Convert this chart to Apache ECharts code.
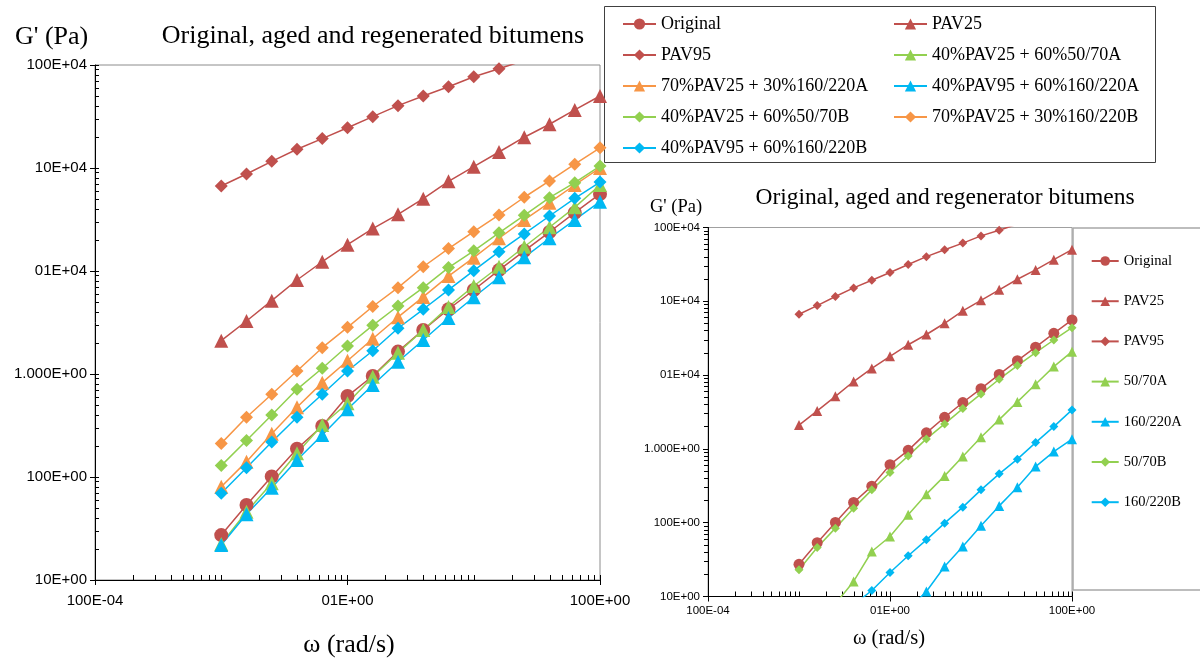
<!DOCTYPE html>
<html><head><meta charset="utf-8">
<script src="https://cdn.jsdelivr.net/npm/echarts@6/dist/echarts.min.js"></script>
<style>html,body{margin:0;padding:0;background:#fff}#c{width:1200px;height:662px}</style>
</head><body><div id="c"></div>
<script>
// angular frequency (rad/s), 5 points per decade
const omega = [0.1,0.1585,0.2512,0.3981,0.631,1,1.585,2.512,3.981,6.31,10,15.85,25.12,39.81,63.1,100];
const xTickLabels = ['100E-04','01E+00','100E+00'];            // at 0.01, 1, 100
const yTickLabels = ['10E+00','100E+00','1.000E+00','01E+04','10E+04','100E+04']; // 10 ... 1e6

// G' (Pa)
const original = [27.3,53.5,101,188,313,611,956,1650,2680,4250,6540,10200,15700,23900,36800,56000];
const pav25 = [2105,3270,5150,8180,12300,18000,25800,35500,50400,74300,103000,143000,199000,266000,366000,500000];
const pav95 = [66800,87500,116000,152000,193000,246000,315000,403000,500000,615000,770000,920000,1110000];
// left chart blends
const mixPav25_5070A = [22.4,46.0,86.9,170,320,520,942,1610,2675,4480,7150,11000,17200,26600,41500,68400];
const mixPav25_160220A = [80.5,141,263,475,824,1346,2200,3560,5600,8930,13460,20800,31300,46000,68400,100000];
const mixPav95_160220A = [21.9,43.4,78.7,146,256,454,782,1316,2140,3500,5560,8690,13580,20800,31300,47100];
const mixPav25_5070B = [129,226,400,710,1136,1870,2970,4570,6890,10800,15700,23500,34700,51500,72000,104500];
const mixPav25_160220B = [212,380,635,1070,1800,2840,4520,6890,11000,16500,24100,35000,52000,74800,109000,157000];
const mixPav95_160220B = [69.5,123,219,380,635,1070,1683,2780,4250,6550,10070,15400,22900,34200,50800,73100];
// right chart regenerators
const reg5070A = [null,null,7.96,16.0,40.7,65.0,127.8,243.8,431,787,1441,2495,4335,7530,13030,20800];
const reg160220A = [null,null,null,null,null,null,6.7,11.7,25.5,47.5,90.7,169,303,576,920,1355];
const reg5070B = [23.0,46.1,84.4,157.5,278.6,478,804,1367,2183,3516,5561,8795,13440,20140,29900,43950];
const reg160220B = [null,null,null,7.7,12.06,21.1,35.6,58.6,98.6,162.5,278.6,459,726,1218,2006,3376];

const RED='#C0504D', GREEN='#92D050', ORANGE='#F79646', CYAN='#00B8F2';
const SERIF='Liberation Serif', SANS='Liberation Sans';

function pairs(vals){ const out=[]; vals.forEach((v,i)=>{ if(v!=null) out.push([omega[i], v]); }); return out; }
function minor(lo, hi){ const out=[]; for(let e=lo;e<hi;e++){ for(let k=1;k<10;k++) out.push(e+Math.log10(k)); } out.push(hi); return out; }

function mk(name, vals, color, symbol, size, g){
  return {name, type:'line', data:pairs(vals), xAxisIndex:g*3, yAxisIndex:g*3,
    symbol, symbolSize:size, showSymbol:true, clip:true,
    lineStyle:{color, width:1.5}, itemStyle:{color}, emphasis:{disabled:true}};
}

const leftNames = ['Original','PAV25','PAV95','40%PAV25 + 60%50/70A','70%PAV25 + 30%160/220A',
  '40%PAV95 + 60%160/220A','40%PAV25 + 60%50/70B','70%PAV25 + 30%160/220B','40%PAV95 + 60%160/220B'];

const series = [
  mk('Original', original, RED, 'circle', 14, 0),
  mk('PAV25', pav25, RED, 'triangle', 14, 0),
  mk('PAV95', pav95, RED, 'diamond', 13, 0),
  mk(leftNames[3], mixPav25_5070A, GREEN, 'triangle', 14, 0),
  mk(leftNames[4], mixPav25_160220A, ORANGE, 'triangle', 14, 0),
  mk(leftNames[5], mixPav95_160220A, CYAN, 'triangle', 14, 0),
  mk(leftNames[6], mixPav25_5070B, GREEN, 'diamond', 13, 0),
  mk(leftNames[7], mixPav25_160220B, ORANGE, 'diamond', 13, 0),
  mk(leftNames[8], mixPav95_160220B, CYAN, 'diamond', 13, 0),
  mk('Original', original, RED, 'circle', 11, 1),
  mk('PAV25', pav25, RED, 'triangle', 10, 1),
  mk('PAV95', pav95, RED, 'diamond', 9, 1),
  mk('50/70A', reg5070A, GREEN, 'triangle', 10, 1),
  mk('160/220A', reg160220A, CYAN, 'triangle', 10, 1),
  mk('50/70B', reg5070B, GREEN, 'diamond', 9, 1),
  mk('160/220B', reg160220B, CYAN, 'diamond', 9, 1)
];

function axesX(g, fs, margin){
  return [
    {gridIndex:g, type:'log', logBase:10, min:0.01, max:100, show:false},
    {gridIndex:g, type:'value', min:-2, max:2, interval:2, position:'bottom',
      axisLine:{show:true, onZero:false, lineStyle:{color:'#000', width:1}},
      axisTick:{show:true, length:5, lineStyle:{color:'#000'}},
      axisLabel:{formatter:v=>xTickLabels[Math.round((v+2)/2)], fontSize:fs, fontFamily:SANS, color:'#000', margin},
      splitLine:{show:false}},
    {gridIndex:g, type:'value', min:-2, max:2, position:'bottom',
      axisLine:{show:false, onZero:false}, axisLabel:{show:false}, splitLine:{show:false},
      axisTick:{show:true, inside:true, length:5, customValues:minor(-2,2), lineStyle:{color:'#000'}}}
  ];
}
function axesY(g, fs, margin, minorInside){
  return [
    {gridIndex:g, type:'log', logBase:10, min:10, max:1000000, show:false},
    {gridIndex:g, type:'value', min:1, max:6, interval:1, position:'left',
      axisLine:{show:true, onZero:false, lineStyle:{color:'#000', width:1}},
      axisTick:{show:true, length:5, lineStyle:{color:'#000'}},
      axisLabel:{formatter:v=>yTickLabels[Math.round(v-1)], fontSize:fs, fontFamily:SANS, color:'#000', margin},
      splitLine:{show:false}},
    {gridIndex:g, type:'value', min:1, max:6, position:'left',
      axisLine:{show:false, onZero:false}, axisLabel:{show:false}, splitLine:{show:false},
      axisTick:{show:true, inside:minorInside, length:4, customValues:minor(1,6), lineStyle:{color:'#000'}}}
  ];
}

const legendText = {fontFamily:SERIF, fontSize:18, color:'#000'};

const option = {
  backgroundColor:'#fff',
  animation:false,
  grid:[
    {left:95, top:65, width:505, height:515, show:true, borderColor:'#8c8c8c', borderWidth:1},
    {left:708, top:227.5, width:364, height:369, show:true, borderColor:'#a0a0a0', borderWidth:1}
  ],
  xAxis:[...axesX(0, 15, 13), ...axesX(1, 11.5, 8)],
  yAxis:[...axesY(0, 15, 8, true), ...axesY(1, 11.5, 8, false)],
  legend:[
    {data:[leftNames[0],leftNames[2],leftNames[4],leftNames[6],leftNames[8]], orient:'vertical',
      left:617, top:10, itemWidth:33, itemHeight:14, itemGap:13, textStyle:legendText, selectedMode:false},
    {data:[leftNames[1],leftNames[3],leftNames[5],leftNames[7]], orient:'vertical',
      left:888, top:10, itemWidth:33, itemHeight:14, itemGap:13, textStyle:legendText, selectedMode:false},
    {data:['Original','PAV25','PAV95','50/70A','160/220A','50/70B','160/220B'], orient:'vertical',
      left:1085.7, top:248.5, itemWidth:27, itemHeight:12, itemGap:25.2,
      textStyle:{fontFamily:SERIF, fontSize:14.5, color:'#000'}, selectedMode:false}
  ],
  graphic:[
    {type:'rect', shape:{x:604.5, y:6.5, width:551, height:156}, style:{fill:null, stroke:'#404040', lineWidth:1}, silent:true, z:-1},
    {type:'rect', shape:{x:1073, y:228, width:140, height:362}, style:{fill:null, stroke:'#a8a8a8', lineWidth:1.5}, silent:true, z:-1},
    {type:'text', x:373, y:36, style:{text:'Original, aged and regenerated bitumens', font:'26px "Liberation Serif"', fill:'#000', textAlign:'center', textVerticalAlign:'middle'}},
    {type:'text', x:15, y:37, style:{text:"G' (Pa)", font:'26px "Liberation Serif"', fill:'#000', textAlign:'left', textVerticalAlign:'middle'}},
    {type:'text', x:349, y:645, style:{text:'ω (rad/s)', font:'26px "Liberation Serif"', fill:'#000', textAlign:'center', textVerticalAlign:'middle'}},
    {type:'text', x:945, y:198, style:{text:'Original, aged and regenerator bitumens', font:'23.5px "Liberation Serif"', fill:'#000', textAlign:'center', textVerticalAlign:'middle'}},
    {type:'text', x:650, y:207, style:{text:"G' (Pa)", font:'18.5px "Liberation Serif"', fill:'#000', textAlign:'left', textVerticalAlign:'middle'}},
    {type:'text', x:889, y:639, style:{text:'ω (rad/s)', font:'20.5px "Liberation Serif"', fill:'#000', textAlign:'center', textVerticalAlign:'middle'}}
  ],
  series
};
const chart = echarts.init(document.getElementById('c'));
chart.setOption(option);
</script></body></html>
